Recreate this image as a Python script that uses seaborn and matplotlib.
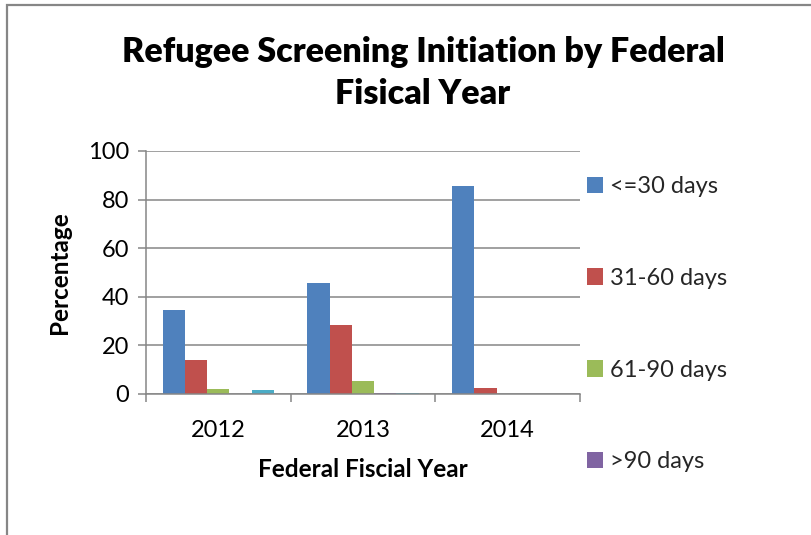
import matplotlib
matplotlib.use("Agg")
import matplotlib.pyplot as plt
import matplotlib.patches as mpatches
import seaborn as sns
import pandas as pd

# Screening initiation share (%) by federal fiscal year
years = ["2012", "2013", "2014"]
within_30 = [34.7, 45.5, 85.4]
days_31_60 = [13.8, 28.4, 2.3]
days_61_90 = [1.9, 5.3, 0.0]
over_90 = [0.0, 0.3, 0.0]
not_initiated = [1.6, 0.4, 0.0]

series_names = ["<=30 days", "31-60 days", "61-90 days", ">90 days", "Not initiated"]
series_values = [within_30, days_31_60, days_61_90, over_90, not_initiated]
series_colors = ["#4F81BD", "#C0504D", "#9BBB59", "#8064A2", "#4BACC6"]
legend_names = series_names[:4]

rows = []
for name, vals in zip(series_names, series_values):
    for yr, v in zip(years, vals):
        rows.append({"Year": yr, "Group": name, "Percent": v})
df = pd.DataFrame(rows)

sns.set_theme(style="white")
plt.rcParams["font.family"] = ["Lato", "DejaVu Sans"]

W, H = 812, 535
fig = plt.figure(figsize=(W / 100, H / 100), dpi=100)
fig.patch.set_facecolor("white")
ax = fig.add_axes([146 / W, 1 - 394 / H, (580 - 146) / W, (394 - 151) / H])

sns.barplot(data=df, x="Year", y="Percent", hue="Group", order=years,
            hue_order=series_names, palette=series_colors, width=0.769,
            linewidth=0, saturation=1, legend=False, ax=ax)

grid_c = "#868686"
ax.set_ylim(0, 100)
ax.set_xlim(-0.5, 2.5)
ax.set_yticks([0, 20, 40, 60, 80, 100])
ax.yaxis.grid(True, color=grid_c, linewidth=1.1)
ax.set_axisbelow(True)
for s in ["top", "right"]:
    ax.spines[s].set_visible(False)
for s in ["left", "bottom"]:
    ax.spines[s].set_color(grid_c)
    ax.spines[s].set_linewidth(1.1)

# category boundaries carry the tick marks, labels sit at the centres
ax.set_xticks([-0.5, 0.5, 1.5, 2.5])
ax.set_xticklabels([])
ax.set_xticks([0, 1, 2], minor=True)
ax.set_xticklabels(years, minor=True)
ax.tick_params(axis="x", which="major", direction="out", length=6, width=1.1,
               color=grid_c, bottom=True)
ax.tick_params(axis="x", which="minor", length=0, pad=19, labelsize=17,
               labelcolor="black")
ax.tick_params(axis="y", direction="out", length=6, width=1.1, color=grid_c,
               left=True, labelsize=17, labelcolor="black", pad=6)

ax.set_xlabel("Federal Fiscial Year", fontsize=17.5, fontweight="bold",
              color="black", labelpad=12)
ax.set_ylabel("Percentage", fontsize=17.5, fontweight="bold", color="black",
              labelpad=12)

fig.text(423 / W, 1 - 73 / H, "Refugee Screening Initiation by Federal\nFisical Year",
         ha="center", va="center", fontsize=24.5, fontweight="heavy",
         color="black", linespacing=1.42)

handles = [mpatches.Patch(facecolor=c, edgecolor="none")
           for c in series_colors[:4]]
fig.legend(handles, legend_names, loc="upper left",
           bbox_to_anchor=(587 / W, 1 - 176 / H), frameon=False,
           fontsize=17, labelspacing=3.0, handlelength=0.68,
           handleheight=0.68, handletextpad=0.3, borderpad=0,
           borderaxespad=0)

# chart-area frame
frame = mpatches.Rectangle((7 / W, -0.1), 1.2, 1 - 5 / H + 0.1,
                           transform=fig.transFigure, fill=False,
                           edgecolor=grid_c, linewidth=1.6, clip_on=False)
fig.add_artist(frame)

fig.savefig("out.png", dpi=100, facecolor="white")
